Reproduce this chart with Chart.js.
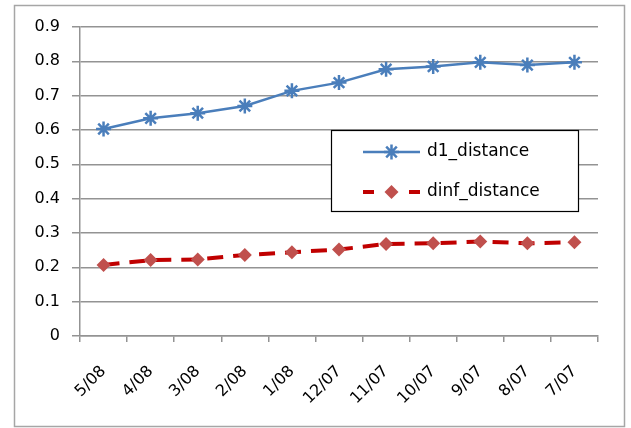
<!DOCTYPE html>
<html>
<head>
<meta charset="utf-8">
<script src="https://cdn.jsdelivr.net/npm/chart.js@4"></script>
<style>
  html, body { margin: 0; padding: 0; background: #fff; }
  #wrap { position: relative; width: 631px; height: 428px; }
</style>
</head>
<body>
<div id="wrap"><canvas id="chart" width="631" height="428"></canvas></div>
<script>
// chart data
const months = ['5/08', '4/08', '3/08', '2/08', '1/08', '12/07', '11/07', '10/07', '9/07', '8/07', '7/07'];
const d1Distance = [0.603, 0.634, 0.649, 0.670, 0.714, 0.738, 0.777, 0.785, 0.797, 0.789, 0.797];
const dinfDistance = [0.207, 0.221, 0.223, 0.236, 0.244, 0.252, 0.268, 0.270, 0.275, 0.270, 0.273];
const yTicks = [0, 0.1, 0.2, 0.3, 0.4, 0.5, 0.6, 0.7, 0.8, 0.9];

const FONT = 'DejaVu Sans';
const BLUE = '#4a7ebb';
const RED_LINE = '#c00000';
const RED_MARK = '#c0504d';
const GRID = '#939393';

// outer frame + legend box drawn inside the plot
const legendBox = {
    id: 'legendBox',
    afterDraw(chart) {
        const ctx = chart.ctx;
        ctx.save();
        ctx.strokeStyle = '#a6a6a6';
        ctx.lineWidth = 1.5;
        ctx.strokeRect(14.5, 5.5, 610, 421);

        const lx = 331, ly = 130, lw = 247, lh = 81;
        ctx.fillStyle = '#fff';
        ctx.fillRect(lx, ly, lw, lh);
        ctx.strokeStyle = '#000';
        ctx.lineWidth = 1.2;
        ctx.strokeRect(lx + 0.5, ly + 0.5, lw, lh);

        const rows = [152, 192];
        chart.data.datasets.forEach((ds, i) => {
            const y = rows[i];
            ctx.strokeStyle = ds.borderColor;
            ctx.lineWidth = ds.borderWidth;
            ctx.beginPath();
            if (i === 1) {
                // dashed sample: two short dashes round the marker
                ctx.moveTo(363, y); ctx.lineTo(374, y);
                ctx.moveTo(409, y); ctx.lineTo(420, y);
            } else {
                ctx.moveTo(363, y); ctx.lineTo(420, y);
            }
            ctx.stroke();

            ctx.fillStyle = ds.pointBackgroundColor;
            ctx.strokeStyle = ds.pointBorderColor;
            ctx.lineWidth = ds.pointBorderWidth;
            Chart.helpers.drawPoint(ctx, {
                pointStyle: ds.pointStyle,
                radius: ds.pointRadius,
                borderWidth: ds.pointBorderWidth,
                rotation: 0
            }, 391.5, y);

            ctx.fillStyle = '#000';
            ctx.font = '17px "' + FONT + '"';
            ctx.textBaseline = 'middle';
            ctx.fillText(ds.label, 427, y);
        });
        ctx.restore();
    }
};

new Chart(document.getElementById('chart'), {
    type: 'line',
    data: {
        labels: months,
        datasets: [
            {
                label: 'd1_distance',
                data: d1Distance,
                borderColor: BLUE,
                borderWidth: 2.5,
                pointStyle: 'star',
                pointRadius: 7.5,
                pointBorderWidth: 2.5,
                pointBackgroundColor: BLUE,
                pointBorderColor: BLUE,
                tension: 0
            },
            {
                label: 'dinf_distance',
                data: dinfDistance,
                borderColor: RED_LINE,
                borderWidth: 4,
                borderDash: [16, 10],
                pointStyle: 'rectRot',
                pointRadius: 7,
                pointBorderWidth: 0,
                pointBackgroundColor: RED_MARK,
                pointBorderColor: RED_MARK,
                tension: 0
            }
        ]
    },
    options: {
        responsive: false,
        animation: false,
        layout: { padding: { top: 27, right: 33, left: 0, bottom: 0 } },
        plugins: {
            legend: { display: false },
            tooltip: { enabled: false }
        },
        scales: {
            x: {
                offset: true,
                grid: {
                    offset: true,
                    drawOnChartArea: false,
                    drawTicks: true,
                    tickLength: 6,
                    color: GRID,
                    lineWidth: 1.5
                },
                border: { color: GRID, width: 1.5 },
                ticks: {
                    font: { family: FONT, size: 16 },
                    color: '#000',
                    maxRotation: 45,
                    minRotation: 45,
                    padding: 20
                },
                afterFit: s => { s.height = 428 - 336; }
            },
            y: {
                min: 0,
                max: 0.9,
                afterBuildTicks: s => { s.ticks = yTicks.map(v => ({ value: v })); },
                grid: {
                    color: GRID,
                    lineWidth: 1.5,
                    tickLength: 8
                },
                border: { color: GRID, width: 1.5 },
                ticks: {
                    font: { family: FONT, size: 16 },
                    color: '#000',
                    padding: 12,
                    callback: v => String(Math.round(v * 10) / 10)
                },
                afterFit: s => { s.width = 80; }
            }
        }
    },
    plugins: [legendBox]
});
</script>
</body>
</html>
